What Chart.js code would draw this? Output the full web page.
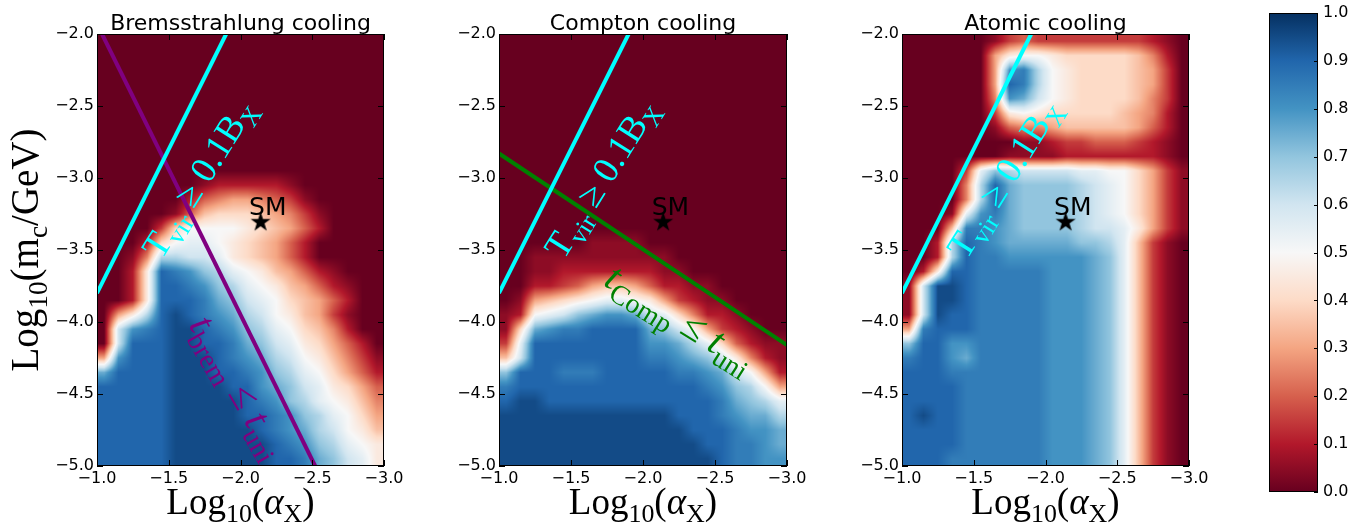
<!DOCTYPE html>
<html>
<head>
<meta charset="utf-8">
<title>Cooling regions</title>
<script src="https://cdn.jsdelivr.net/npm/chart.js@4.4.1/dist/chart.umd.min.js"></script>
<style>
  html, body { margin: 0; padding: 0; background: #fff; }
  body { position: relative; width: 1364px; height: 524px; overflow: hidden; }
  canvas { position: absolute; top: 0; }
</style>
</head>
<body>
<canvas id="bremChart" width="414" height="524" style="left:0px"></canvas>
<canvas id="comptonChart" width="415" height="524" style="left:402px"></canvas>
<canvas id="atomicChart" width="414" height="524" style="left:805px"></canvas>
<canvas id="colorbar" width="124" height="524" style="left:1240px"></canvas>
<script>
var X_TICKS = [-1.0, -1.5, -2.0, -2.5, -3.0];
var Y_TICKS = [-2.0, -2.5, -3.0, -3.5, -4.0, -4.5, -5.0];
var CBAR_TICKS = [0.0, 0.1, 0.2, 0.3, 0.4, 0.5, 0.6, 0.7, 0.8, 0.9, 1.0];

// extent of the grids: columns run from log(alpha) -1.0 to -3.0, rows from log(m) -2.0 down to -5.0
var X_RANGE = [-1.0, -3.0];
var Y_RANGE = [-2.0, -5.0];

// one letter per 0.1 x 0.1 cell: A = 0.00, B = 0.05 ... K = 0.50 ... U = 1.00
var LEVELS = "ABCDEFGHIJKLMNOPQRSTU";

var bremGrid = [
  "AAAAAAAAAAAAAAAAAAAA",
  "AAAAAAAAAAAAAAAAAAAA",
  "AAAAAAAAAAAAAAAAAAAA",
  "AAAAAAAAAAAAAAAAAAAA",
  "AAAAAAAAAAAAAAAAAAAA",
  "AAAAAAAAAAAAAAAAAAAA",
  "AAAAAAAAAAAAAAAAAAAA",
  "AAAAAAAAAAAAAAAAAAAA",
  "AAAAAAAAAAAAAAAAAAAA",
  "AAAAAAAAAAAAAAAAAAAA",
  "AAAAAAABCCCCCBAAAAAA",
  "AAAAAACEFGGFEDBAAAAA",
  "AAAAABEHIIIHGFDBAAAA",
  "AAAADIKKKKJIHGECAAAA",
  "AAACIKLLKJIHGECAAAAA",
  "AABFNNMMLJIHGECAAAAA",
  "AACJSRQONLKJHGECBAAA",
  "AACJSSRQONLKJHGECBAA",
  "AACJSSSRPOMLKIHGECAA",
  "AGJNSTSRQPNMKJHGDBAA",
  "AMQRSTTSRQONLKIHFCAA",
  "AMSSSTTSSRPOMLJIGECA",
  "GQSSSTTTSRQPNMKJHFDB",
  "PSSSSTTTSSRQONLKIGEC",
  "SSSSSTTTTSSQPOMLJIGE",
  "SSSSSTTTTTSRQONLKJHF",
  "SSSSSTTTTTSSRQONLKIG",
  "SSSSSTTTTTTSRQPNMKJH",
  "SSSSSTTTTTTTSRQONLKJ",
  "SSSSSTTTTTTTSSRPOMLJ"
];

var comptonGrid = [
  "AAAAAAAAAAAAAAAAAAAA",
  "AAAAAAAAAAAAAAAAAAAA",
  "AAAAAAAAAAAAAAAAAAAA",
  "AAAAAAAAAAAAAAAAAAAA",
  "AAAAAAAAAAAAAAAAAAAA",
  "AAAAAAAAAAAAAAAAAAAA",
  "AAAAAAAAAAAAAAAAAAAA",
  "AAAAAAAAAAAAAAAAAAAA",
  "AAAAAAAAAAAAAAAAAAAA",
  "AAAAAAAAAAAAAAAAAAAA",
  "AAAAAAAAAAAAAAAAAAAA",
  "AAAAAAAAAAAAAAAAAAAA",
  "AAAAAAAAAAAAAAAAAAAA",
  "AAAAAAAAAAAAAAAAAAAA",
  "AAAAAABBBBAAAAAAAAAA",
  "AABBBBBBBBBBAAAAAAAA",
  "AABBCCCCCCCBBAAAAAAA",
  "AACCDEGHHGECCBBAAAAA",
  "ABGHIJKLLKJGDCBBAAAA",
  "BCKLMOPQQPMLIFCCBAAA",
  "BIPQRRSSSSPOMKGDCBAA",
  "DLSSSSSSSSQQPNLIECBB",
  "HMSSSSSSSSRRQPOMJFCB",
  "OSSSRRRSSSSSRRQPMKGC",
  "RSSSSSSSSSSSSSRQONKG",
  "STTSSSSSSSSSSSSRPONL",
  "TTTTTTTTTTTTSSSRQPPN",
  "TTTTTTTTTTTTTSSSRQQP",
  "TTTTTTTTTTTTTTSSRRQP",
  "TTTTTTTTTTTTTTTSRRQQ"
];

var atomicGrid = [
  "AAAAAABDEDDDDDDDDCBA",
  "AAAAAAGJKKJIIIIIHFCA",
  "AAAAAAGQRNKJIIIIHGDA",
  "AAAAAAGSRNKJIIIIHGDA",
  "AAAAAAFQPMKJIIIIHFDA",
  "AAAAAADJKJIIIIIHGFCA",
  "AAAAAABEFFGHHHHHGECA",
  "AAAAAAAABBCDDEEEDCBA",
  "AAAAAAABBBBCCCCCCCBA",
  "AAAADLONMMMMLLKKIGDB",
  "AAAAFNSPOOOONMLKIGDB",
  "AAAAFNSPOOOONMLKIGDB",
  "AAABLQRPOOOONMLKIGDB",
  "AAAHRRQPOOOONMMLJGDB",
  "AACNSRQPPPPPOONLHDBA",
  "AACNSRRQQQQQQPOLHDBA",
  "ACJSSRRRRRQQQPOLHDBA",
  "BMTTSRRRRRQQQPOLHDBA",
  "BMTTSRRRRRQQQPOLHDBA",
  "BMTSSRRRRRQQQPOLHDBA",
  "GRSSSRRRRRQQQPOLHDBA",
  "OSSQQRRRRRQQQPOLHDBA",
  "RSSQPRRRRRQQQPOLHDBA",
  "SSSRRRRRRRQQQPOLHDBA",
  "SSSSRRRRRRQQQPOLHDBA",
  "SSSSRRRRRRQQQPOLHDBA",
  "STSSRRRRRRQQQPOLHDBA",
  "SSSSRRRRRRQQQPOLHDBA",
  "SSSSRRRRRRQQQPOLHDBA",
  "SSSRRRRRRRQQQPOLHDBA"
];

var tvirLine = [{ x: -1.0, y: -3.8 }, { x: -1.9, y: -2.0 }];
var bremLine = [{ x: -1.035, y: -2.0 }, { x: -2.52, y: -5.0 }];
var comptonLine = [{ x: -1.0, y: -2.83 }, { x: -3.0, y: -4.16 }];
var smPoint = [{ x: -2.14, y: -3.30 }];

(function () {
  "use strict";

  var RDBU = ["#67001f", "#b2182b", "#d6604d", "#f4a582", "#fddbc7", "#f7f7f7",
              "#d1e5f0", "#92c5de", "#4393c3", "#2166ac", "#053061"];
  var SANS = '"DejaVu Sans", sans-serif';
  var SERIF = '"Liberation Serif", "DejaVu Serif", serif';
  var TICK_LEN = 6;

  function hexToRgb(hex) {
    var n = parseInt(hex.slice(1), 16);
    return [(n >> 16) & 255, (n >> 8) & 255, n & 255];
  }

  var RDBU_RGB = RDBU.map(hexToRgb);

  function rdbu(v) {
    v = Math.max(0, Math.min(1, v));
    var p = v * 10;
    var i = Math.min(9, Math.floor(p));
    var f = p - i;
    var a = RDBU_RGB[i];
    var b = RDBU_RGB[i + 1];
    return [
      Math.round(a[0] + (b[0] - a[0]) * f),
      Math.round(a[1] + (b[1] - a[1]) * f),
      Math.round(a[2] + (b[2] - a[2]) * f)
    ];
  }

  function fmt(value) {
    return Number(value).toFixed(1).replace("-", "\u2212");
  }

  function parseGrid(grid) {
    return grid.map(function (row) {
      return row.split("").map(function (ch) {
        return LEVELS.indexOf(ch) / 20;
      });
    });
  }

  // bilinear look-up between cell centres, like imshow's bilinear smoothing
  function sampleGrid(values, gx, gy) {
    var rows = values.length;
    var cols = values[0].length;
    gx = Math.max(0, Math.min(cols - 1, gx));
    gy = Math.max(0, Math.min(rows - 1, gy));
    var x0 = Math.floor(gx);
    var y0 = Math.floor(gy);
    var x1 = Math.min(cols - 1, x0 + 1);
    var y1 = Math.min(rows - 1, y0 + 1);
    var fx = gx - x0;
    var fy = gy - y0;
    var top = values[y0][x0] * (1 - fx) + values[y0][x1] * fx;
    var bot = values[y1][x0] * (1 - fx) + values[y1][x1] * fx;
    return top * (1 - fy) + bot * fy;
  }

  function buildStar() {
    var size = 22;
    var canvas = document.createElement("canvas");
    canvas.width = size;
    canvas.height = size;
    var g = canvas.getContext("2d");
    var cx = size / 2, cy = size / 2 + 1, outer = 10.5, inner = 4.1;
    g.beginPath();
    for (var i = 0; i < 10; i++) {
      var rad = i % 2 === 0 ? outer : inner;
      var a = -Math.PI / 2 + i * Math.PI / 5;
      var px = cx + rad * Math.cos(a);
      var py = cy + rad * Math.sin(a);
      if (i === 0) g.moveTo(px, py); else g.lineTo(px, py);
    }
    g.closePath();
    g.fillStyle = "#000";
    g.fill();
    return canvas;
  }

  function partFont(part, size, family) {
    var style = part[1];
    var sub = style.indexOf("sub") === 0;
    var italic = style === "i" || style === "subi" ? "italic " : "";
    return italic + (sub ? size * 0.7 : size).toFixed(1) + "px " + family;
  }

  // draws a run of text pieces (normal, italic, subscript) centred on x, y
  function drawRich(ctx, parts, x, y, angle, size, family, color, shift) {
    ctx.save();
    ctx.translate(x, y);
    ctx.rotate(angle * Math.PI / 180);
    ctx.fillStyle = color;
    ctx.textAlign = "left";
    ctx.textBaseline = "alphabetic";
    var total = 0;
    parts.forEach(function (p) {
      ctx.font = partFont(p, size, family);
      total += ctx.measureText(p[0]).width;
    });
    var cx = -total / 2;
    parts.forEach(function (p) {
      ctx.font = partFont(p, size, family);
      var dy = shift + (p[1].indexOf("sub") === 0 ? size * 0.22 : 0);
      ctx.fillText(p[0], cx, dy);
      cx += ctx.measureText(p[0]).width;
    });
    ctx.restore();
  }

  var X_LABEL = [["Log", "r"], ["10", "sub"], ["(", "r"], ["\u03b1", "i"], ["X", "sub"], [")", "r"]];
  var Y_LABEL = [["Log", "r"], ["10", "sub"], ["(m", "r"], ["c", "sub"], ["/GeV)", "r"]];
  var TVIR_TEXT = [["T", "r"], ["vir", "sub"], [" \u2265 ", "r"], ["0.1B", "r"], ["X", "sub"]];
  var BREM_TEXT = [["t", "i"], ["brem", "sub"], [" \u2264 ", "r"], ["t", "i"], ["uni", "sub"]];
  var COMP_TEXT = [["t", "i"], ["Comp", "sub"], [" \u2264 ", "r"], ["t", "i"], ["uni", "sub"]];

  var starImage = buildStar();

  var framePlugin = {
    id: "frame",
    afterDatasetsDraw: function (chart) {
      var area = chart.chartArea;
      var ctx = chart.ctx;
      var xs = chart.scales.x;
      var ys = chart.scales.y;
      ctx.save();
      ctx.strokeStyle = "#000";
      ctx.lineWidth = 1;
      ctx.strokeRect(area.left + 0.5, area.top + 0.5, area.right - area.left - 1, area.bottom - area.top - 1);
      ctx.beginPath();
      X_TICKS.forEach(function (v) {
        var px = Math.round(xs.getPixelForValue(v)) + 0.5;
        ctx.moveTo(px, area.bottom);
        ctx.lineTo(px, area.bottom - TICK_LEN);
        ctx.moveTo(px, area.top);
        ctx.lineTo(px, area.top + TICK_LEN);
      });
      Y_TICKS.forEach(function (v) {
        var py = Math.round(ys.getPixelForValue(v)) + 0.5;
        ctx.moveTo(area.left, py);
        ctx.lineTo(area.left + TICK_LEN, py);
        ctx.moveTo(area.right, py);
        ctx.lineTo(area.right - TICK_LEN, py);
      });
      ctx.stroke();
      ctx.restore();
    }
  };

  function heatmapPlugin(grid) {
    var values = parseGrid(grid);
    var rows = values.length;
    var cols = values[0].length;
    return {
      id: "heatmap",
      beforeDatasetsDraw: function (chart) {
        var xs = chart.scales.x;
        var ys = chart.scales.y;
        var ctx = chart.ctx;
        var left = Math.round(xs.getPixelForValue(X_RANGE[0]));
        var right = Math.round(xs.getPixelForValue(X_RANGE[1]));
        var top = Math.round(ys.getPixelForValue(Y_RANGE[0]));
        var bottom = Math.round(ys.getPixelForValue(Y_RANGE[1]));
        var w = right - left;
        var h = bottom - top;
        if (w <= 0 || h <= 0) return;
        var img = ctx.createImageData(w, h);
        for (var py = 0; py < h; py++) {
          var yv = ys.getValueForPixel(top + py + 0.5);
          var gy = (Y_RANGE[0] - yv) / (Y_RANGE[0] - Y_RANGE[1]) * rows - 0.5;
          for (var px = 0; px < w; px++) {
            var xv = xs.getValueForPixel(left + px + 0.5);
            var gx = (X_RANGE[0] - xv) / (X_RANGE[0] - X_RANGE[1]) * cols - 0.5;
            var rgb = rdbu(sampleGrid(values, gx, gy));
            var k = (py * w + px) * 4;
            img.data[k] = rgb[0];
            img.data[k + 1] = rgb[1];
            img.data[k + 2] = rgb[2];
            img.data[k + 3] = 255;
          }
        }
        ctx.putImageData(img, left, top);
      }
    };
  }

  function notesPlugin(title, notes, showYLabel) {
    return {
      id: "notes",
      afterDraw: function (chart) {
        var ctx = chart.ctx;
        var xs = chart.scales.x;
        var ys = chart.scales.y;
        var area = chart.chartArea;
        var mid = (area.left + area.right) / 2;
        notes.forEach(function (n) {
          drawRich(ctx, n.parts, xs.getPixelForValue(n.x), ys.getPixelForValue(n.y),
            n.angle, n.size, n.family, n.color, n.shift);
        });
        drawRich(ctx, [[title, "r"]], mid, 30, 0, 22, SANS, "#000", 0);
        drawRich(ctx, X_LABEL, mid, 514, 0, 37, SERIF, "#000", 0);
        if (showYLabel) {
          drawRich(ctx, Y_LABEL, 38, (area.top + area.bottom) / 2, -90, 39, SERIF, "#000", 0);
        }
      }
    };
  }

  function buildPanel(canvasId, title, grid, line, lineColor, notes, showYLabel) {
    var datasets = [
      { data: smPoint, pointStyle: starImage, pointRadius: 10, showLine: false }
    ];
    datasets.push({
      data: tvirLine, showLine: true, borderColor: "#00ffff", borderWidth: 4,
      borderCapStyle: "butt", pointRadius: 0, clip: 0
    });
    if (line) {
      datasets.push({
        data: line, showLine: true, borderColor: lineColor, borderWidth: 4,
        borderCapStyle: "butt", pointRadius: 0, clip: 0
      });
    }

    var allNotes = notes.concat([
      { parts: [["SM", "r"]], x: -2.19, y: -3.257, angle: 0, size: 25, family: SANS, color: "#000", shift: 0 }
    ]);

    new Chart(document.getElementById(canvasId), {
      type: "scatter",
      data: { datasets: datasets },
      options: {
        responsive: false,
        animation: false,
        events: [],
        layout: { padding: { left: 0, right: 30, top: 34, bottom: 0 } },
        plugins: {
          legend: { display: false },
          tooltip: { enabled: false },
          title: { display: false }
        },
        scales: {
          x: {
            type: "linear",
            min: -3,
            max: -1,
            reverse: true,
            grid: { display: false, drawTicks: false },
            border: { display: false },
            afterBuildTicks: function (scale) {
              scale.ticks = X_TICKS.map(function (v) { return { value: v }; });
            },
            afterFit: function (scale) { scale.height = 58; },
            ticks: {
              autoSkip: false,
              maxRotation: 0,
              padding: 5,
              color: "#000",
              font: { family: SANS, size: 16, lineHeight: 1.0 },
              callback: fmt
            }
          },
          y: {
            type: "linear",
            min: -5,
            max: -2,
            grid: { display: false, drawTicks: false },
            border: { display: false },
            afterBuildTicks: function (scale) {
              scale.ticks = Y_TICKS.map(function (v) { return { value: v }; });
            },
            afterFit: function (scale) { scale.width = 97; },
            ticks: {
              autoSkip: false,
              padding: 3,
              color: "#000",
              font: { family: SANS, size: 16, lineHeight: 1.0 },
              callback: fmt
            }
          }
        }
      },
      plugins: [heatmapPlugin(grid), framePlugin, notesPlugin(title, allNotes, showYLabel)]
    });
  }

  var colorbarPlugin = {
    id: "colorbar",
    beforeDatasetsDraw: function (chart) {
      var area = chart.chartArea;
      var ys = chart.scales.y;
      var ctx = chart.ctx;
      var y0 = ys.getPixelForValue(0);
      var y1 = ys.getPixelForValue(1);
      var grad = ctx.createLinearGradient(0, y0, 0, y1);
      RDBU.forEach(function (color, i) {
        var stop = (ys.getPixelForValue(i / 10) - y0) / (y1 - y0);
        grad.addColorStop(stop, color);
      });
      ctx.save();
      ctx.fillStyle = grad;
      ctx.fillRect(area.left, area.top, area.right - area.left, area.bottom - area.top);
      ctx.strokeStyle = "#000";
      ctx.lineWidth = 1;
      ctx.strokeRect(area.left + 0.5, area.top + 0.5, area.right - area.left - 1, area.bottom - area.top - 1);
      ctx.beginPath();
      CBAR_TICKS.forEach(function (v) {
        var py = Math.round(ys.getPixelForValue(v)) + 0.5;
        ctx.moveTo(area.right, py);
        ctx.lineTo(area.right - 4, py);
      });
      ctx.stroke();
      ctx.restore();
    }
  };

  function buildColorbar() {
    new Chart(document.getElementById("colorbar"), {
      type: "scatter",
      data: { datasets: [] },
      options: {
        responsive: false,
        animation: false,
        events: [],
        layout: { padding: { left: 29, right: 0, top: 8, bottom: 32 } },
        plugins: { legend: { display: false }, tooltip: { enabled: false } },
        scales: {
          x: { type: "linear", display: false, min: 0, max: 1 },
          y: {
            type: "linear",
            position: "right",
            min: 0,
            max: 1,
            grid: { display: false, drawTicks: false },
            border: { display: false },
            afterBuildTicks: function (scale) {
              scale.ticks = CBAR_TICKS.map(function (v) { return { value: v }; });
            },
            afterFit: function (scale) { scale.width = 46; },
            ticks: {
              autoSkip: false,
              padding: 5,
              color: "#000",
              font: { family: SANS, size: 16, lineHeight: 1.0 },
              callback: function (v) { return Number(v).toFixed(1); }
            }
          }
        }
      },
      plugins: [colorbarPlugin]
    });
  }

  buildPanel("bremChart", "Bremsstrahlung cooling", bremGrid, bremLine, "#800080", [
    { parts: TVIR_TEXT, x: -1.72, y: -3.01, angle: -58, size: 37, family: SERIF, color: "#00ffff", shift: 10 },
    { parts: BREM_TEXT, x: -1.97, y: -4.46, angle: 60, size: 40, family: SERIF, color: "#800080", shift: 10 }
  ], true);

  buildPanel("comptonChart", "Compton cooling", comptonGrid, comptonLine, "#008000", [
    { parts: TVIR_TEXT, x: -1.72, y: -3.01, angle: -58, size: 37, family: SERIF, color: "#00ffff", shift: 10 },
    { parts: COMP_TEXT, x: -2.25, y: -3.99, angle: 32, size: 40, family: SERIF, color: "#008000", shift: 10 }
  ], false);

  buildPanel("atomicChart", "Atomic cooling", atomicGrid, null, null, [
    { parts: TVIR_TEXT, x: -1.72, y: -3.01, angle: -58, size: 37, family: SERIF, color: "#00ffff", shift: 10 }
  ], false);

  buildColorbar();
})();
</script>
</body>
</html>
